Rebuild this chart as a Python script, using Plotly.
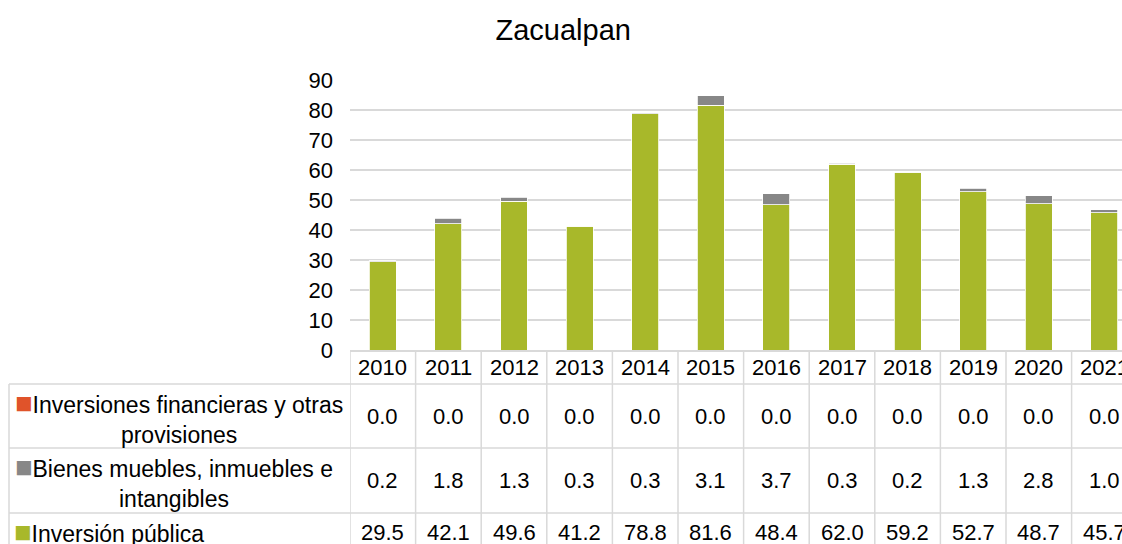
import plotly.graph_objects as go

years = ["2010", "2011", "2012", "2013", "2014", "2015", "2016", "2017", "2018", "2019", "2020", "2021"]
inversiones_financieras = [0.0, 0.0, 0.0, 0.0, 0.0, 0.0, 0.0, 0.0, 0.0, 0.0, 0.0, 0.0]
bienes_muebles = [0.2, 1.8, 1.3, 0.3, 0.3, 3.1, 3.7, 0.3, 0.2, 1.3, 2.8, 1.0]
inversion_publica = [29.5, 42.1, 49.6, 41.2, 78.8, 81.6, 48.4, 62.0, 59.2, 52.7, 48.7, 45.7]

series_names = ["Inversiones financieras y otras<br>provisiones",
                "Bienes muebles, inmuebles e<br>intangibles",
                "Inversión pública"]
colors = {"fin": "#E0532A", "bienes": "#878787", "pub": "#A8B82A"}

FONT = "Liberation Sans, Arial, sans-serif"
GRID = "#D9D9D9"
W, H = 1122, 544
ML, MT, MB = 350, 80, 194
plot_h = H - MT - MB
plot_w = W - ML
cat_w = 65.6

def py(p):  # pixel y -> paper y
    return (H - MB - p) / plot_h

def px(p):  # pixel x -> paper x
    return (p - ML) / plot_w

fig = go.Figure()
fig.add_trace(go.Bar(x=years, y=inversion_publica, name="Inversión pública",
                     marker=dict(color=colors["pub"], line=dict(color="white", width=0.8))))
fig.add_trace(go.Bar(x=years, y=bienes_muebles, name="Bienes muebles",
                     marker=dict(color=colors["bienes"], line=dict(color="white", width=0.8))))
fig.add_trace(go.Bar(x=years, y=inversiones_financieras, name="Inversiones financieras",
                     marker=dict(color=colors["fin"], line=dict(width=0))))

shapes = []
line = dict(color=GRID, width=1.5)
for k in range(len(years) + 1):
    shapes.append(dict(type="line", xref="x", yref="paper", x0=k - 0.5, x1=k - 0.5,
                       y0=py(350), y1=py(570), line=line, layer="below"))
for yy in [384, 448, 513, 551]:
    shapes.append(dict(type="line", xref="paper", yref="paper", x0=px(9), x1=1.05,
                       y0=py(yy), y1=py(yy), line=line))
shapes.append(dict(type="line", xref="paper", yref="paper", x0=px(9), x1=px(9),
                   y0=py(384), y1=py(570), line=line))

ann = []
tfont = dict(family=FONT, size=22, color="black")
lfont = dict(family=FONT, size=23, color="black")
for i, yr in enumerate(years):
    ann.append(dict(x=i, xref="x", y=py(367), yref="paper", text=yr, showarrow=False,
                    font=tfont, xanchor="center", yanchor="middle"))
rows = [(inversiones_financieras, 416), (bienes_muebles, 480.5), (inversion_publica, 532)]
for vals, yy in rows:
    for i, v in enumerate(vals):
        ann.append(dict(x=i, xref="x", y=py(yy), yref="paper", text=f"{v:.1f}",
                        showarrow=False, font=tfont, xanchor="center", yanchor="middle"))

sq = '<span style="color:{};font-size:29px">■</span>'
ann.append(dict(x=px(179), xref="paper", y=py(417), yref="paper",
                text=sq.format(colors["fin"]) + series_names[0], align="center",
                showarrow=False, font=lfont, xanchor="center", yanchor="middle"))
ann.append(dict(x=px(174), xref="paper", y=py(481), yref="paper",
                text=sq.format(colors["bienes"]) + series_names[1], align="center",
                showarrow=False, font=lfont, xanchor="center", yanchor="middle"))
ann.append(dict(x=px(12), xref="paper", y=py(532), yref="paper",
                text=sq.format(colors["pub"]) + series_names[2], align="left",
                showarrow=False, font=lfont, xanchor="left", yanchor="middle"))

fig.update_layout(
    width=W, height=H,
    margin=dict(l=ML, r=0, t=MT, b=MB, pad=0),
    barmode="stack", bargap=0.59,
    showlegend=False,
    plot_bgcolor="white", paper_bgcolor="white",
    title=dict(text="Zacualpan", x=0.502, xref="container", xanchor="center",
               y=1 - 30 / H, yref="container", yanchor="middle",
               font=dict(family=FONT, size=29, color="black")),
    xaxis=dict(type="category", range=[-0.5, -0.5 + plot_w / cat_w], showticklabels=False,
               showgrid=False, showline=True, linecolor=GRID, linewidth=1.5, ticks="",
               fixedrange=True),
    yaxis=dict(range=[0, 90], dtick=10, showgrid=True, gridcolor=GRID, gridwidth=1.5,
               zeroline=False, showline=False, ticks="", ticklabelstandoff=16,
               tickfont=dict(family=FONT, size=22, color="black"), fixedrange=True),
    shapes=shapes, annotations=ann,
)

fig.write_html("out.html", config={"displayModeBar": False},
               post_script="document.body.style.margin='0';document.body.style.overflow='hidden';")
